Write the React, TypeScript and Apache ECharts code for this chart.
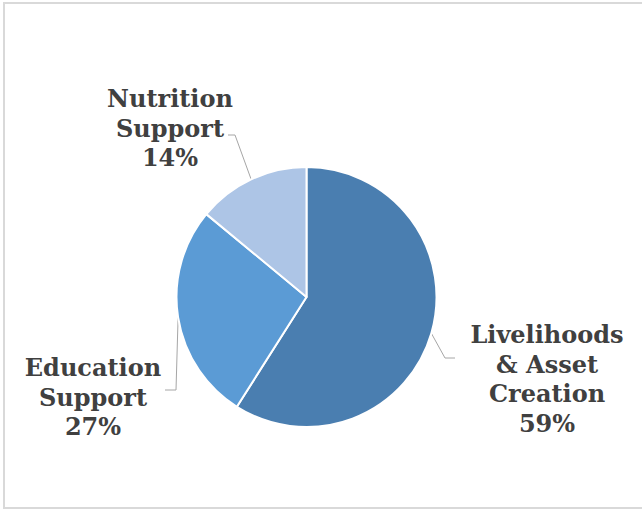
import React, { useEffect, useRef } from "react";
import * as echarts from "echarts";

const categories = ["Livelihoods\n& Asset\nCreation", "Education\nSupport", "Nutrition\nSupport"];
const shares = [59, 27, 14];
const colors = ["#4a7eb0", "#5b9bd5", "#adc5e6"];

// label centres and leader-line elbows (layout only)
const labelPos = [
  { x: 547, y: 379, line: [[445, 358], [455, 358]] },
  { x: 93, y: 397, line: [[176, 390], [165, 390]] },
  { x: 170, y: 128, line: [[235, 135], [228, 135]] },
];

export default function App() {
  const ref = useRef<HTMLDivElement>(null);
  useEffect(() => {
    document.body.style.margin = "0";
    const chart = echarts.init(ref.current!, null, { renderer: "svg" });
    chart.setOption({
      animation: false,
      backgroundColor: "#ffffff",
      graphic: [
        {
          type: "rect",
          shape: { x: 4, y: 3, width: 660, height: 505 },
          style: { fill: "none", stroke: "#d9d9d9", lineWidth: 2 },
          silent: true,
        },
      ],
      series: [
        {
          type: "pie",
          center: [306.5, 297],
          radius: 130,
          startAngle: 90,
          clockwise: true,
          itemStyle: { borderColor: "#ffffff", borderWidth: 2 },
          label: {
            show: true,
            position: "outside",
            formatter: (p: any) => `${p.name}\n${p.value}%`,
            fontFamily: "DejaVu Serif",
            fontWeight: "bold",
            fontSize: 24,
            lineHeight: 29.5,
            color: "#404040",
            align: "center",
            width: 200,
            overflow: "none",
          },
          labelLine: {
            show: true,
            length: 20,
            length2: 10,
            lineStyle: { color: "#a6a6a6", width: 1 },
          },
          labelLayout: (params: any) => {
            const lp = labelPos[params.dataIndex];
            const start = params.labelLinePoints ? params.labelLinePoints[0] : lp.line[0];
            return {
              x: lp.x,
              y: lp.y,
              align: "center",
              verticalAlign: "middle",
              labelLinePoints: [start, ...lp.line],
            };
          },
          data: categories.map((c, i) => ({
            name: c,
            value: shares[i],
            itemStyle: { color: colors[i] },
          })),
        },
      ],
    });
    return () => chart.dispose();
  }, []);
  return (
    <div
      ref={ref}
      style={{ position: "fixed", left: 0, top: 0, width: 642, height: 510 }}
    />
  );
}
